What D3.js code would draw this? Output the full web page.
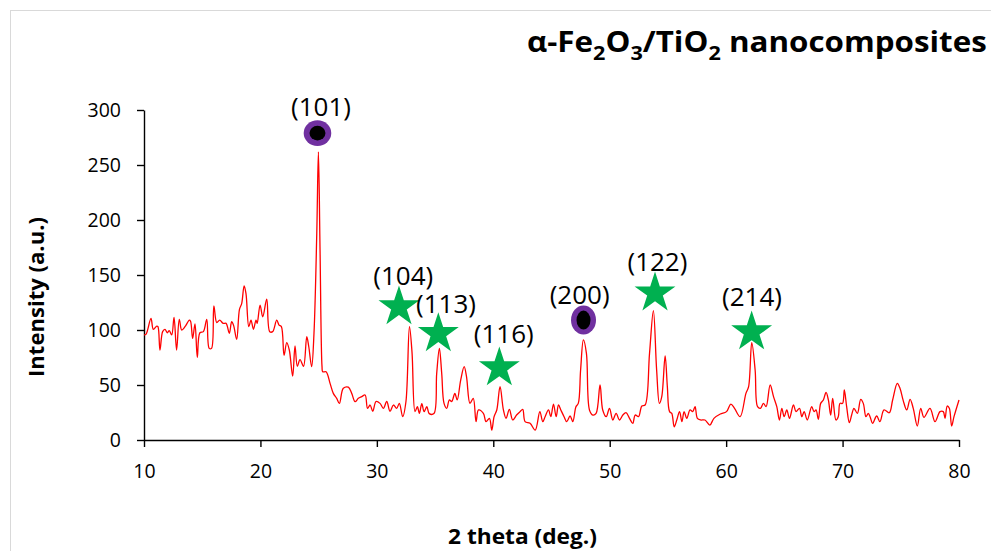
<!DOCTYPE html>
<html>
<head>
<meta charset="utf-8">
<script src="https://cdn.jsdelivr.net/npm/d3@7"></script>
<style>
  html, body { margin: 0; padding: 0; background: #fff; }
  svg { display: block; }
</style>
</head>
<body>
<svg id="chart" width="991" height="551"></svg>
<script>
// ---- data ----
const theta = [10.0,10.17,10.6,10.8,11.1,11.2,11.37,11.6,11.8,12.0,12.17,12.38,12.58,12.8,13.03,13.24,13.52,13.9,14.0,14.18,14.38,14.58,14.8,15.1,15.39,15.6,15.8,16.0,16.25,16.5,16.8,17.05,17.33,17.53,17.7,17.96,18.2,18.39,18.6,18.76,19.0,19.19,19.4,19.62,19.72,19.97,20.2,20.54,20.8,21.05,21.4,21.6,21.8,22.03,22.26,22.48,22.77,22.97,23.17,23.4,23.7,23.98,24.15,24.4,24.6,24.84,24.98,25.12,25.29,25.35,25.64,25.98,26.26,26.55,26.78,27.12,27.55,27.84,28.13,28.41,28.7,28.99,29.2,29.42,29.65,29.93,30.27,30.56,30.85,31.13,31.42,31.7,31.93,32.22,32.5,32.8,33.02,33.28,33.48,33.65,33.86,34.06,34.29,34.5,34.9,35.14,35.37,35.57,35.77,36.0,36.23,36.43,36.7,36.9,37.2,37.5,37.7,38.0,38.28,38.52,38.73,39.15,39.38,39.67,39.87,40.07,40.3,40.58,40.87,41.1,41.38,41.67,42.0,42.3,42.53,42.73,43.16,43.6,44.0,44.25,44.45,44.74,44.94,45.17,45.4,45.6,45.8,46.08,46.31,46.6,46.83,47.1,47.3,47.5,47.74,48.0,48.26,48.55,48.83,49.17,49.4,49.7,49.98,50.27,50.55,50.84,51.13,51.4,51.7,51.98,52.19,52.47,52.76,53.04,53.42,53.75,54.03,54.27,54.47,54.76,54.95,55.14,55.33,55.54,55.76,56.0,56.2,56.39,56.62,56.9,57.13,57.33,57.53,57.8,58.18,58.6,58.95,59.5,60.03,60.4,60.72,61.2,61.7,61.93,62.2,62.49,62.7,62.95,63.2,63.43,63.78,64.07,64.35,64.58,64.78,64.98,65.21,65.44,65.78,66.0,66.3,66.5,66.7,66.97,67.35,67.55,67.72,67.92,68.12,68.35,68.58,68.78,68.98,69.15,69.43,69.63,69.78,70.0,70.15,70.35,70.58,70.78,70.98,71.27,71.56,71.78,72.01,72.21,72.36,72.58,72.93,73.21,73.56,74.01,74.3,74.7,74.93,75.21,75.51,75.8,76.07,76.42,76.71,76.99,77.51,77.94,78.37,78.65,78.8,78.99,79.17,79.37,79.57,80.0];
const intensity = [95.5,96,110.6,100.6,103.6,103,81.8,98.5,100.6,97.5,99.4,95.5,111.5,81.8,109.7,100,103,109,108,92.4,105.5,75.2,97.5,98.5,109.7,83.3,83.3,121.8,106.7,109,106,106,97,107.5,104,91.5,118.8,124,140,133,103,109,100.6,109,106,122.7,112,128,98.5,98.5,109,104.5,103,77,88.5,81.8,58,85.5,67,73,67,94,85,66.7,97,188,262,173,66.7,62,62,51.5,42.4,37.9,33.3,47,48,42.4,34.8,37.9,39.4,40.9,28.8,31.8,26.1,35,33.3,28.8,35,26,31.8,28.8,33.3,21.2,35,103,79.7,25.8,30.3,24.2,33,25.8,30.3,24,24,60.6,83.3,60.6,33.3,28.8,36.4,35,42.4,36.4,54.5,66.7,57.6,33.3,37.9,16.7,27.3,24.2,16.7,19.7,9,21.2,27.3,48.5,27.3,19.7,27.9,18.2,22.7,25.8,27.9,16.7,15.2,9,25.8,16.7,21.2,27.3,21.2,32.7,21.2,31.8,27.3,21.2,16.7,21.8,16.7,30.3,33.3,63.6,91,78.8,27.3,22.7,24.2,50,27.3,21.2,28.8,18.2,24.2,18.2,22.7,24.8,19.7,15.2,22.7,21.2,30.9,31.8,78.8,117.6,63.6,33.3,39.4,76.4,48.5,25.8,24.2,12,18.2,25.8,16.7,25.8,19.7,27.3,25.8,30.3,19.7,18.2,18.2,13.6,19.7,23.6,25.8,32.7,28.8,21.2,42.4,48.5,88.5,63.6,30.3,28.8,33.3,30.3,50,39.4,30.3,18.2,28.8,21.2,27.3,19.7,31.8,25.8,28.8,21.2,25.8,18.2,30.3,25.8,27.3,18.8,33.3,36.4,43.3,36.4,22.7,37.9,18.2,21.2,33.3,33.3,45.5,30.3,15.8,22.7,28.8,24.2,37,33.3,21.2,24.2,21.2,15.2,21.8,16.7,27.3,24.8,36.4,51.5,47,35.8,27.3,37,28.8,12.7,28.8,20.6,28.8,16.7,25.8,25.8,19.7,30.9,28.8,12.7,21.2,36.4];

const xTicks = [10,20,30,40,50,60,70,80];
const yTicks = [0,50,100,150,200,250,300];

// peak annotations: (hkl) label, phase marker type and positions in data units
const peakLabels  = ["(101)","(104)","(113)","(116)","(200)","(122)","(214)"];
const peakMarker  = ["circle","star","star","star","circle","star","star"];
const markerTheta = [24.9, 31.9, 35.28, 40.52, 47.75, 53.89, 62.19];
const markerInt   = [279, 121, 96.6, 65.5, 109, 133.6, 98.2];
const labelTheta  = [25.2, 32.27, 35.94, 40.9, 47.42, 54.1, 62.22];
const labelInt    = [295, 140.9, 115.7, 88.5, 123.4, 153.9, 121.8];

const xTitle = "2 theta (deg.)";
const yTitle = "Intensity (a.u.)";

(function () {
// ---- drawing ----
const svg = d3.select("#chart");
const W = 991, H = 551;
const mL = 144, mR = 959, mT = 110, mB = 440;

// outer chart frame
svg.append("rect")
  .attr("x", 10.5).attr("y", 10.5)
  .attr("width", W + 20).attr("height", H + 20)
  .attr("fill", "#fff").attr("stroke", "#D9D9D9").attr("stroke-width", 1);

const x = d3.scaleLinear().domain([10, 80]).range([mL, mR]);
const y = d3.scaleLinear().domain([0, 300]).range([mB, mT]);

const fontTick = "'Open Sans', 'Noto Sans', sans-serif";

// axes
const yAxis = d3.axisLeft(y).tickValues(yTicks).tickSize(7).tickSizeOuter(0).tickPadding(16);
const gy = svg.append("g").attr("transform", `translate(${mL},0)`).call(yAxis);
const xAxis = d3.axisBottom(x).tickValues(xTicks).tickSize(7).tickSizeOuter(0).tickPadding(17);
const gx = svg.append("g").attr("transform", `translate(0,${mB})`).call(xAxis);

[gx, gy].forEach(g => {
  g.selectAll("path.domain").attr("stroke", "#000").attr("stroke-width", 1.4);
  g.selectAll(".tick line").attr("stroke", "#000").attr("stroke-width", 1.4);
  g.selectAll(".tick text")
    .attr("fill", "#000")
    .style("font-family", fontTick)
    .style("font-size", "19.5px");
});

// data line
const line = d3.line()
  .x((d, i) => x(theta[i]))
  .y((d, i) => y(intensity[i]))
  .curve(d3.curveCatmullRom.alpha(0.5));

svg.append("path")
  .datum(intensity)
  .attr("d", line)
  .attr("fill", "none")
  .attr("stroke", "#FF0000")
  .attr("stroke-width", 1.3)
  .attr("stroke-linejoin", "round");

// markers
const starSize = (21.5 * 21.5) / 0.8908130915292852;
peakLabels.forEach((lab, i) => {
  const cx = x(markerTheta[i]), cy = y(markerInt[i]);
  if (peakMarker[i] === "star") {
    svg.append("path")
      .attr("d", d3.symbol(d3.symbolStar, starSize)())
      .attr("transform", `translate(${cx},${cy})`)
      .attr("fill", "#00B050");
  } else {
    const tall = i === 4;
    svg.append("ellipse")
      .attr("cx", cx).attr("cy", cy)
      .attr("rx", tall ? 12.5 : 13.8).attr("ry", tall ? 14.5 : 12.8)
      .attr("fill", "#7030A0");
    svg.append("ellipse")
      .attr("cx", cx).attr("cy", cy)
      .attr("rx", tall ? 7 : 8).attr("ry", tall ? 9.5 : 7.3)
      .attr("fill", "#000");
  }
  svg.append("text")
    .attr("x", x(labelTheta[i])).attr("y", y(labelInt[i]))
    .attr("text-anchor", "middle")
    .style("font-family", fontTick)
    .style("font-size", "26px")
    .attr("fill", "#000")
    .text(lab);
});

function fitScale(sel, targetW) {
  const bb = sel.node().getBBox();
  return bb.width > 0 ? targetW / bb.width : 1;
}

// title with subscripts
const title = svg.append("text")
  .style("font-family", fontTick)
  .style("font-weight", "bold")
  .style("font-size", "29px")
  .attr("fill", "#000");
const parts = [["α-Fe", false], ["2", true], ["O", false], ["3", true], ["/TiO", false], ["2", true], [" nanocomposites", false]];
let sub = false;
parts.forEach(([t, s]) => {
  const ts = title.append("tspan").text(t);
  if (s) { ts.style("font-size", "20px").attr("dy", sub ? 0 : 8); sub = true; }
  else { ts.attr("dy", sub ? -8 : 0); sub = false; }
});
title.attr("transform", `translate(527,51.5) scale(${fitScale(title, 460)},1)`);

// x axis title
const xt = svg.append("text")
  .style("font-family", fontTick).style("font-weight", "bold").style("font-size", "21px")
  .attr("text-anchor", "middle").attr("fill", "#000").text(xTitle);
xt.attr("transform", `translate(522.5,543.5) scale(${fitScale(xt, 149)},1)`);

// y axis title
const yt = svg.append("text")
  .style("font-family", fontTick).style("font-weight", "bold").style("font-size", "21px")
  .attr("text-anchor", "middle").attr("fill", "#000").text(yTitle);
yt.attr("transform", `translate(44,297) rotate(-90) scale(${fitScale(yt, 160)},1)`);
})();
</script>
</body>
</html>
